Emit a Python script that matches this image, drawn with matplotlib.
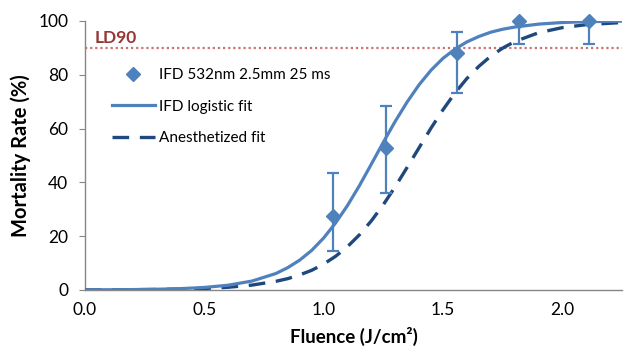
import numpy as np
import matplotlib
matplotlib.use('Agg')
import matplotlib.pyplot as plt
from matplotlib.lines import Line2D

plt.rcParams['font.family'] = ['Lato', 'DejaVu Sans']

''' DATA '''

# measured mortality points (IFD 532nm 2.5mm 25 ms)
fluence_pts = [1.04, 1.26, 1.56, 1.82, 2.11]
mortality_pts = [27.6, 52.8, 88.1, 100.0, 100.0]
err_low = [13.0, 16.6, 14.9, 8.6, 8.6]
err_up = [16.0, 15.6, 7.8, 0.0, 0.0]

# fit curves
fit_x = [0.0, 0.1, 0.2, 0.3, 0.4, 0.5, 0.6, 0.7, 0.8, 0.85, 0.9, 0.95, 1.0, 1.05,
         1.1, 1.15, 1.2, 1.25, 1.3, 1.35, 1.4, 1.45, 1.5, 1.55, 1.6, 1.65, 1.7,
         1.75, 1.8, 1.9, 2.0, 2.1, 2.25]
ifd_fit = [0.04, 0.07, 0.13, 0.25, 0.48, 0.92, 1.75, 3.3, 6.1, 8.3, 11.1, 14.7, 19.3,
           24.9, 31.4, 38.8, 46.8, 54.9, 62.7, 69.9, 76.3, 81.7, 86.1, 89.5, 92.2,
           94.2, 95.8, 96.9, 97.7, 98.8, 99.4, 99.7, 99.9]
anest_fit = [0.03, 0.05, 0.09, 0.17, 0.31, 0.55, 0.99, 1.8, 3.2, 4.2, 5.6, 7.3, 9.6,
             12.5, 16.1, 20.5, 25.7, 31.7, 38.4, 45.6, 52.9, 60.2, 67.0, 73.2, 78.6,
             83.1, 86.9, 89.9, 92.3, 95.6, 97.5, 98.6, 99.4]

ld90 = 90
x_ticks = [0.0, 0.5, 1.0, 1.5, 2.0]
y_ticks = [0, 20, 40, 60, 80, 100]

''' PLOTTING '''

blue = '#4F81BD'
navy = '#1F497D'
red = '#953735'

fig = plt.figure(figsize=(6.24, 3.54), dpi=100)
ax = fig.add_axes([0.136, 0.181, 0.861, 0.76])

ax.axhline(ld90, color='#C0504D', linestyle=(0, (1, 1.3)), linewidth=1.6, alpha=0.8, zorder=1)
ax.text(0.04, 90.7, 'LD90', color=red, fontsize=12.5, fontweight='bold', ha='left', va='bottom')

ax.plot(fit_x, anest_fit, color=navy, linewidth=2.4, linestyle=(0, (5, 3.2)), zorder=3)
ax.plot(fit_x, ifd_fit, color=blue, linewidth=2.3, zorder=4)
ax.errorbar(fluence_pts, mortality_pts, yerr=[err_low, err_up], fmt='D', color=blue,
            markersize=7, elinewidth=1.6, capsize=4, capthick=1.6, zorder=5, clip_on=False)

ax.set_xlim(0, 2.25)
ax.set_ylim(0, 100)
ax.set_xticks(x_ticks)
ax.set_xticklabels(['%.1f' % v for v in x_ticks])
ax.set_yticks(y_ticks)
ax.tick_params(axis='both', labelsize=12.5, color='#868686', length=4, direction='out')
ax.tick_params(axis='y', pad=8)
ax.tick_params(axis='x', length=0, pad=9)

for s in ['top', 'right']:
    ax.spines[s].set_visible(False)
for s in ['left', 'bottom']:
    ax.spines[s].set_color('#868686')
    ax.spines[s].set_linewidth(1.0)

ax.set_xlabel('Fluence (J/cm²)', fontsize=13.5, fontweight='bold', labelpad=6)
ax.set_ylabel('Mortality Rate (%)', fontsize=14.5, fontweight='bold', labelpad=5)

# legend handles (marker only for the data points, like the original)
handles = [Line2D([], [], marker='D', color=blue, linestyle='none', markersize=7),
           Line2D([], [], color=blue, linewidth=2.3),
           Line2D([], [], color=navy, linewidth=2.4, linestyle=(0, (5, 3.2)))]
labels = ['IFD 532nm 2.5mm 25 ms', 'IFD logistic fit', 'Anesthetized fit']
leg = ax.legend(handles, labels, loc='upper left', bbox_to_anchor=(0.05, 0.825),
                frameon=False, fontsize=11, handlelength=2.8, handletextpad=0.3,
                labelspacing=1.15, borderpad=0, borderaxespad=0)

plt.savefig('out.png', dpi=100)
